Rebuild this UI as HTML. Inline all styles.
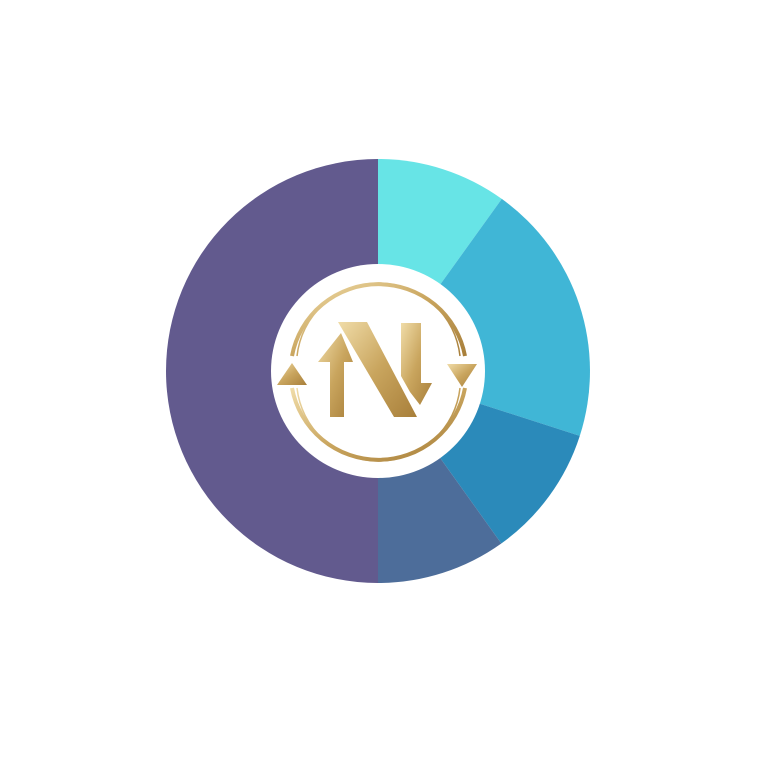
<!DOCTYPE html>
<html><head><style>html,body{margin:0;padding:0;background:#fff;width:768px;height:768px;overflow:hidden}</style></head>
<body>
<svg width="768" height="768" viewBox="0 0 768 768" xmlns="http://www.w3.org/2000/svg">
<defs>
<linearGradient id="g" x1="0" y1="0" x2="1" y2="1">
<stop offset="0" stop-color="#f0dca8"/><stop offset="0.5" stop-color="#c9a55e"/><stop offset="1" stop-color="#a87f3a"/>
</linearGradient>
</defs>
<g transform="translate(378,371)">
<path d="M0,0 L0,212 A212,212 0 0 1 0,-212 Z" fill="#625a8e"/>
<path d="M0,0 L0,-212 A212,212 0 0 1 123.8,-172.1 Z" fill="#67e4e6"/>
<path d="M0,0 L123.8,-172.1 A212,212 0 0 1 201.8,64.9 Z" fill="#40b6d6"/>
<path d="M0,0 L201.8,64.9 A212,212 0 0 1 123.3,172.5 Z" fill="#2b8aba"/>
<path d="M0,0 L123.3,172.5 A212,212 0 0 1 0,212 Z" fill="#4d6d9a"/>
<circle r="107" fill="#fff"/>
</g>
<g fill="none" stroke="url(#g)">
<path d="M292,356 A88,88 0 0 1 465,356" stroke-width="4"/>
<path d="M465,388 A88,88 0 0 1 292,388" stroke-width="4"/>
<path d="M297,356 A82,82 0 0 1 460,356" stroke-width="1.5"/>
<path d="M460,388 A82,82 0 0 1 297,388" stroke-width="1.5"/>
</g>
<g fill="url(#g)">
<polygon points="292,363 307,385 277,385"/>
<polygon points="447,364 477,364 462,387"/>
<polygon points="341,333 353,362 344,362 344,417 330,417 330,362 318,362"/>
<polygon points="338,322 367,322 417,417 394,417"/>
<polygon points="401,323 421,323 421,383 432,383 420,405 410,392 401,376"/>
</g>
</svg>
</body></html>
